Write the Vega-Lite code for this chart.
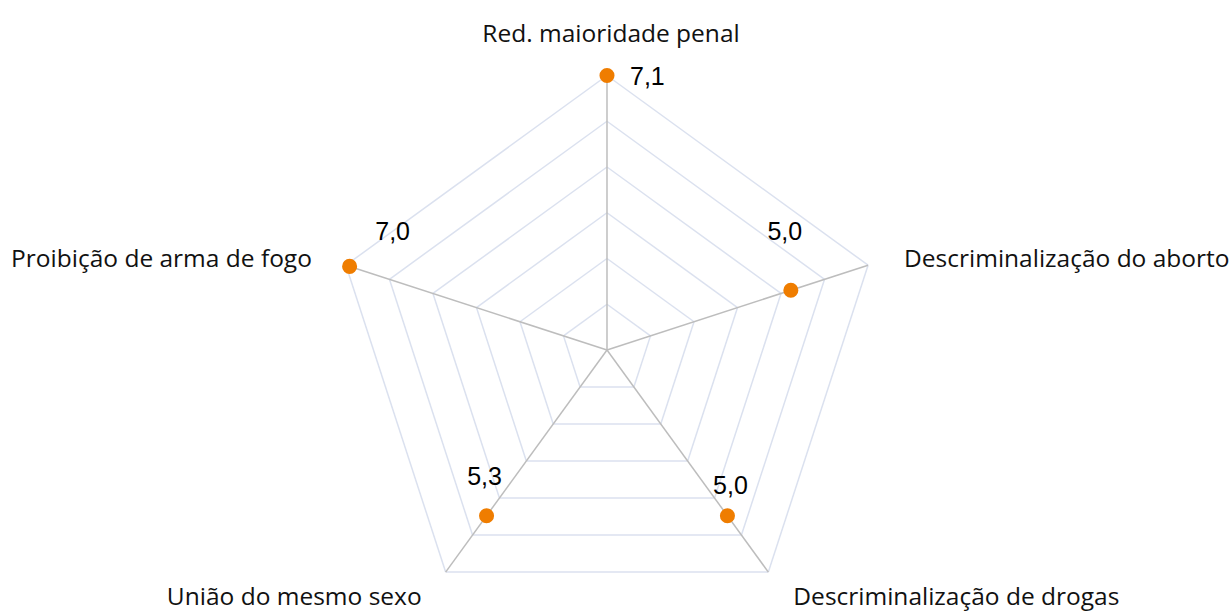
{
  "$schema": "https://vega.github.io/schema/vega-lite/v6.json",
  "width": 1231,
  "height": 615,
  "autosize": "none",
  "padding": 0,
  "background": "white",
  "config": {"view": {"stroke": null}},
  "datasets": {
    "eixos": [
      {"eixo": "Red. maioridade penal", "ordem": 0, "valor": 7.1, "rotulo": "7,1"},
      {"eixo": "Descriminalização do aborto", "ordem": 1, "valor": 5.0, "rotulo": "5,0"},
      {"eixo": "Descriminalização de drogas", "ordem": 2, "valor": 5.3, "rotulo": "5,0"},
      {"eixo": "União do mesmo sexo", "ordem": 3, "valor": 5.3, "rotulo": "5,3"},
      {"eixo": "Proibição de arma de fogo", "ordem": 4, "valor": 7.0, "rotulo": "7,0"}
    ],
    "grade": [
      {"ordem": 0, "aneis": [1.1833, 2.3667, 3.55, 4.7333, 5.9167, 7.1]},
      {"ordem": 1, "aneis": [1.1833, 2.3667, 3.55, 4.7333, 5.9167, 7.1]},
      {"ordem": 2, "aneis": [1.1833, 2.3667, 3.55, 4.7333, 5.9167, 7.1]},
      {"ordem": 3, "aneis": [1.1833, 2.3667, 3.55, 4.7333, 5.9167, 7.1]},
      {"ordem": 4, "aneis": [1.1833, 2.3667, 3.55, 4.7333, 5.9167, 7.1]}
    ]
  },
  "resolve": {"scale": {"x": "shared", "y": "shared"}},
  "layer": [
    {
      "data": {"name": "grade"},
      "transform": [
        {"flatten": ["aneis"], "as": ["anel"]},
        {"calculate": "datum.ordem * 2 * PI / 5", "as": "a1"},
        {"calculate": "(datum.ordem + 1) * 2 * PI / 5", "as": "a2"},
        {"calculate": "datum.anel * sin(datum.a1)", "as": "x1"},
        {"calculate": "datum.anel * cos(datum.a1)", "as": "y1"},
        {"calculate": "datum.anel * sin(datum.a2)", "as": "x2"},
        {"calculate": "datum.anel * cos(datum.a2)", "as": "y2"}
      ],
      "mark": {"type": "rule", "color": "#dbe1ef", "strokeWidth": 1.5},
      "encoding": {
        "x": {"field": "x1", "type": "quantitative", "scale": {"domain": [-15.7, 16.14], "nice": false, "zero": false}, "axis": null},
        "y": {"field": "y1", "type": "quantitative", "scale": {"domain": [-6.854, 9.053], "nice": false, "zero": false}, "axis": null},
        "x2": {"field": "x2"},
        "y2": {"field": "y2"}
      }
    },
    {
      "data": {"name": "eixos"},
      "transform": [
        {"calculate": "datum.ordem * 2 * PI / 5", "as": "a"},
        {"calculate": "7.1 * sin(datum.a)", "as": "xe"},
        {"calculate": "7.1 * cos(datum.a)", "as": "ye"}
      ],
      "mark": {"type": "rule", "color": "#bdbdbd", "strokeWidth": 1.5},
      "encoding": {
        "x": {"field": "xe", "type": "quantitative"},
        "y": {"field": "ye", "type": "quantitative"},
        "x2": {"datum": 0},
        "y2": {"datum": 0}
      }
    },
    {
      "data": {"name": "eixos"},
      "transform": [
        {"calculate": "datum.ordem * 2 * PI / 5", "as": "a"},
        {"calculate": "datum.valor * sin(datum.a)", "as": "xv"},
        {"calculate": "datum.valor * cos(datum.a)", "as": "yv"}
      ],
      "mark": {"type": "point", "filled": true, "opacity": 1, "color": "#ef7d00", "size": 227},
      "encoding": {
        "x": {"field": "xv", "type": "quantitative"},
        "y": {"field": "yv", "type": "quantitative"}
      }
    },
    {
      "data": {"name": "eixos"},
      "transform": [
        {"filter": "datum.ordem == 0"},
        {"calculate": "datum.ordem * 2 * PI / 5", "as": "a"},
        {"calculate": "datum.valor * sin(datum.a)", "as": "xv"},
        {"calculate": "datum.valor * cos(datum.a)", "as": "yv"}
      ],
      "mark": {"type": "text", "font": "Liberation Sans", "fontSize": 25, "color": "#000000", "align": "left", "baseline": "alphabetic", "dx": 23, "dy": 9},
      "encoding": {"x": {"field": "xv", "type": "quantitative"}, "y": {"field": "yv", "type": "quantitative"}, "text": {"field": "rotulo"}}
    },
    {
      "data": {"name": "eixos"},
      "transform": [
        {"filter": "datum.ordem == 1"},
        {"calculate": "datum.ordem * 2 * PI / 5", "as": "a"},
        {"calculate": "datum.valor * sin(datum.a)", "as": "xv"},
        {"calculate": "datum.valor * cos(datum.a)", "as": "yv"}
      ],
      "mark": {"type": "text", "font": "Liberation Sans", "fontSize": 25, "color": "#000000", "align": "center", "baseline": "alphabetic", "dx": -6, "dy": -50},
      "encoding": {"x": {"field": "xv", "type": "quantitative"}, "y": {"field": "yv", "type": "quantitative"}, "text": {"field": "rotulo"}}
    },
    {
      "data": {"name": "eixos"},
      "transform": [
        {"filter": "datum.ordem == 2"},
        {"calculate": "datum.ordem * 2 * PI / 5", "as": "a"},
        {"calculate": "datum.valor * sin(datum.a)", "as": "xv"},
        {"calculate": "datum.valor * cos(datum.a)", "as": "yv"}
      ],
      "mark": {"type": "text", "font": "Liberation Sans", "fontSize": 25, "color": "#000000", "align": "center", "baseline": "alphabetic", "dx": 3, "dy": -22},
      "encoding": {"x": {"field": "xv", "type": "quantitative"}, "y": {"field": "yv", "type": "quantitative"}, "text": {"field": "rotulo"}}
    },
    {
      "data": {"name": "eixos"},
      "transform": [
        {"filter": "datum.ordem == 3"},
        {"calculate": "datum.ordem * 2 * PI / 5", "as": "a"},
        {"calculate": "datum.valor * sin(datum.a)", "as": "xv"},
        {"calculate": "datum.valor * cos(datum.a)", "as": "yv"}
      ],
      "mark": {"type": "text", "font": "Liberation Sans", "fontSize": 25, "color": "#000000", "align": "center", "baseline": "alphabetic", "dx": -2, "dy": -31},
      "encoding": {"x": {"field": "xv", "type": "quantitative"}, "y": {"field": "yv", "type": "quantitative"}, "text": {"field": "rotulo"}}
    },
    {
      "data": {"name": "eixos"},
      "transform": [
        {"filter": "datum.ordem == 4"},
        {"calculate": "datum.ordem * 2 * PI / 5", "as": "a"},
        {"calculate": "datum.valor * sin(datum.a)", "as": "xv"},
        {"calculate": "datum.valor * cos(datum.a)", "as": "yv"}
      ],
      "mark": {"type": "text", "font": "Liberation Sans", "fontSize": 25, "color": "#000000", "align": "center", "baseline": "alphabetic", "dx": 43, "dy": -26},
      "encoding": {"x": {"field": "xv", "type": "quantitative"}, "y": {"field": "yv", "type": "quantitative"}, "text": {"field": "rotulo"}}
    },
    {
      "data": {"name": "eixos"},
      "transform": [
        {"filter": "datum.ordem == 0"},
        {"calculate": "datum.ordem * 2 * PI / 5", "as": "a"},
        {"calculate": "7.1 * sin(datum.a)", "as": "xe"},
        {"calculate": "7.1 * cos(datum.a)", "as": "ye"}
      ],
      "mark": {"type": "text", "font": "Open Sans", "fontSize": 24.5, "color": "#111111", "align": "center", "baseline": "alphabetic", "dx": 4, "dy": -34},
      "encoding": {"x": {"field": "xe", "type": "quantitative"}, "y": {"field": "ye", "type": "quantitative"}, "text": {"field": "eixo"}}
    },
    {
      "data": {"name": "eixos"},
      "transform": [
        {"filter": "datum.ordem == 1"},
        {"calculate": "datum.ordem * 2 * PI / 5", "as": "a"},
        {"calculate": "7.1 * sin(datum.a)", "as": "xe"},
        {"calculate": "7.1 * cos(datum.a)", "as": "ye"}
      ],
      "mark": {"type": "text", "font": "Open Sans", "fontSize": 24.5, "color": "#111111", "align": "left", "baseline": "alphabetic", "dx": 36, "dy": 2},
      "encoding": {"x": {"field": "xe", "type": "quantitative"}, "y": {"field": "ye", "type": "quantitative"}, "text": {"field": "eixo"}}
    },
    {
      "data": {"name": "eixos"},
      "transform": [
        {"filter": "datum.ordem == 2"},
        {"calculate": "datum.ordem * 2 * PI / 5", "as": "a"},
        {"calculate": "7.1 * sin(datum.a)", "as": "xe"},
        {"calculate": "7.1 * cos(datum.a)", "as": "ye"}
      ],
      "mark": {"type": "text", "font": "Open Sans", "fontSize": 24.5, "color": "#111111", "align": "left", "baseline": "alphabetic", "dx": 25, "dy": 33},
      "encoding": {"x": {"field": "xe", "type": "quantitative"}, "y": {"field": "ye", "type": "quantitative"}, "text": {"field": "eixo"}}
    },
    {
      "data": {"name": "eixos"},
      "transform": [
        {"filter": "datum.ordem == 3"},
        {"calculate": "datum.ordem * 2 * PI / 5", "as": "a"},
        {"calculate": "7.1 * sin(datum.a)", "as": "xe"},
        {"calculate": "7.1 * cos(datum.a)", "as": "ye"}
      ],
      "mark": {"type": "text", "font": "Open Sans", "fontSize": 24.5, "color": "#111111", "align": "right", "baseline": "alphabetic", "dx": -24, "dy": 33},
      "encoding": {"x": {"field": "xe", "type": "quantitative"}, "y": {"field": "ye", "type": "quantitative"}, "text": {"field": "eixo"}}
    },
    {
      "data": {"name": "eixos"},
      "transform": [
        {"filter": "datum.ordem == 4"},
        {"calculate": "datum.ordem * 2 * PI / 5", "as": "a"},
        {"calculate": "7.1 * sin(datum.a)", "as": "xe"},
        {"calculate": "7.1 * cos(datum.a)", "as": "ye"}
      ],
      "mark": {"type": "text", "font": "Open Sans", "fontSize": 24.5, "color": "#111111", "align": "right", "baseline": "alphabetic", "dx": -34, "dy": 2},
      "encoding": {"x": {"field": "xe", "type": "quantitative"}, "y": {"field": "ye", "type": "quantitative"}, "text": {"field": "eixo"}}
    }
  ]
}
